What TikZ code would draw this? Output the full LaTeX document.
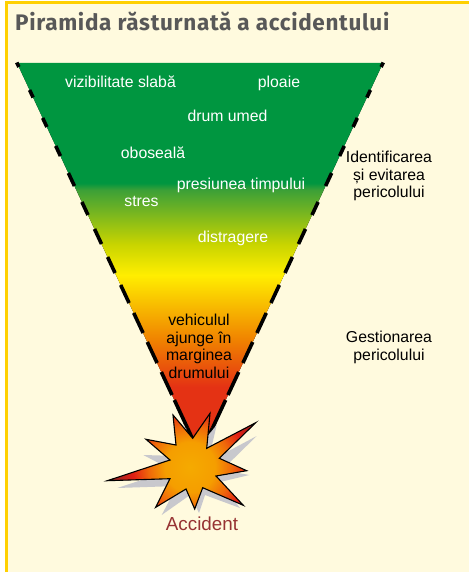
\documentclass[tikz,border=0pt]{standalone}
\usepackage{fontspec}
\setmainfont{Liberation Sans}
\newfontfamily\titlefont[LetterSpace=3]{Fira Sans Bold}
\definecolor{cream}{RGB}{255,250,222}
\definecolor{framey}{RGB}{255,208,0}
\definecolor{titlegray}{RGB}{88,88,88}
\definecolor{pgreen}{RGB}{0,150,64}
\definecolor{pgreenb}{RGB}{60,160,55}
\definecolor{pyel}{RGB}{200,212,0}
\definecolor{pyellow}{RGB}{255,238,0}
\definecolor{porange}{RGB}{240,130,0}
\definecolor{pred}{RGB}{228,50,20}
\definecolor{accred}{RGB}{150,50,50}
\definecolor{shadowgray}{RGB}{200,200,205}
\definecolor{bla}{RGB}{245,170,0}
\definecolor{blb}{RGB}{245,158,0}
\definecolor{blc}{RGB}{240,105,10}
\definecolor{bld}{RGB}{225,30,20}
\definecolor{ble}{RGB}{130,35,35}
\pgfdeclareverticalshading{pyramidshade}{100bp}{
  color(0bp)=(pred); color(25bp)=(pred); color(33.67bp)=(pred);
  color(39.67bp)=(porange); color(47.96bp)=(pyellow); color(51.91bp)=(pyel);
  color(58.8bp)=(pgreenb); color(59.69bp)=(pgreen); color(75bp)=(pgreen); color(100bp)=(pgreen)}
\pgfdeclareradialshading{blastshade}{\pgfpoint{0bp}{0bp}}{
  color(0bp)=(bla); color(7bp)=(blb);
  color(11.5bp)=(blc); color(16bp)=(bld);
  color(23bp)=(ble); color(50bp)=(ble)}
\tikzset{
  lbl/.style={font=\fontsize{15.8}{17.5}\selectfont,align=center,inner sep=0pt},
  wlbl/.style={lbl,text=white},
  klbl/.style={lbl,text=black},
  edgedash/.style={draw=black,line width=3.6pt},
  blastline/.style={draw=black,line width=1.1pt,line join=miter,miter limit=12}
}
\newcommand{\blastpath}{(173,415)--(192.7,438.3)--(210,413.3)--(206.7,448.3)--(255.7,422.7)--(219.3,458.3)--(246.7,470.7)--(216,476)--(243.3,505.3)--(202.7,487.7)--(194.7,509)--(186,489)--(155.7,507.3)--(170,478.7)--(107.3,480.7)--(170,460)--(146,439.3)--(176,445)--cycle}
\begin{document}
\begin{tikzpicture}[x=1pt,y=-1pt]
\useasboundingbox (0,0) rectangle (469,572);
\fill[white] (0,0) rectangle (469,572);
\fill[cream] (5.3,1) rectangle (469,572);
\fill[framey] (5.3,1) rectangle (469,3.7);
\fill[framey] (5.3,1) rectangle (8,572);
\node[anchor=base west,inner sep=0pt,text=titlegray,font=\titlefont\fontsize{22.5}{23}\selectfont] (title) at (15,31) {Piramida răsturnată a accidentului};
% pyramid
\begin{scope}
\clip (17,63)--(383,63)--(200,455)--cycle;
\fill[shading=pyramidshade] (0,63) rectangle (469,455);
\end{scope}
\foreach \a/\b in {62.5/67,90/97.5,118/127,146/156,173/186,202/215,229/244,257/273,285/303,313/333,342/363,372/395,400/428,428/445}{
  \draw[edgedash] ({17+(\a-63)*.467},\a)--({17+(\b-63)*.467},\b);
  \draw[edgedash] ({383-(\a-63)*.467},\a)--({383-(\b-63)*.467},\b);
}
% blast
\fill[shadowgray] (184,425)--(196,450)--(216.7,425)--(208,462)--(256.7,436)--(222,470)--(249.3,475)--(220,482)--(240,508)--(205,495)--(199,513)--(190,495)--(161.7,515)--(177,486)--(117.3,488)--(172,470)--(143.3,455)--(178,456)--cycle;
\begin{scope}
\clip \blastpath;
\fill[shading=blastshade] (100,377) rectangle (280,557);
\end{scope}
\draw[blastline] \blastpath;
% labels
\node[wlbl] (n1) at (120.5,82) {vizibilitate slabă};
\node[wlbl] (n2) at (279,83.5) {ploaie};
\node[wlbl] (n3) at (227.5,116) {drum umed};
\node[wlbl] (n4) at (153,153) {oboseală};
\node[wlbl] (n5) at (241,185) {presiunea timpului};
\node[wlbl] (n6) at (141.5,201) {stres};
\node[wlbl] (n7) at (233,238) {distragere};
\node[klbl] (n8) at (199,346.5) {vehiculul\\ajunge în\\marginea\\drumului};
\node[klbl] (n9) at (389,176) {Identificarea\\și evitarea\\pericolului};
\node[klbl] (n10) at (389,347.5) {Gestionarea\\pericolului};
\node[lbl,text=accred,font=\fontsize{18.8}{20}\selectfont] (acc) at (202,524) {Accident};
\end{tikzpicture}
\end{document}
